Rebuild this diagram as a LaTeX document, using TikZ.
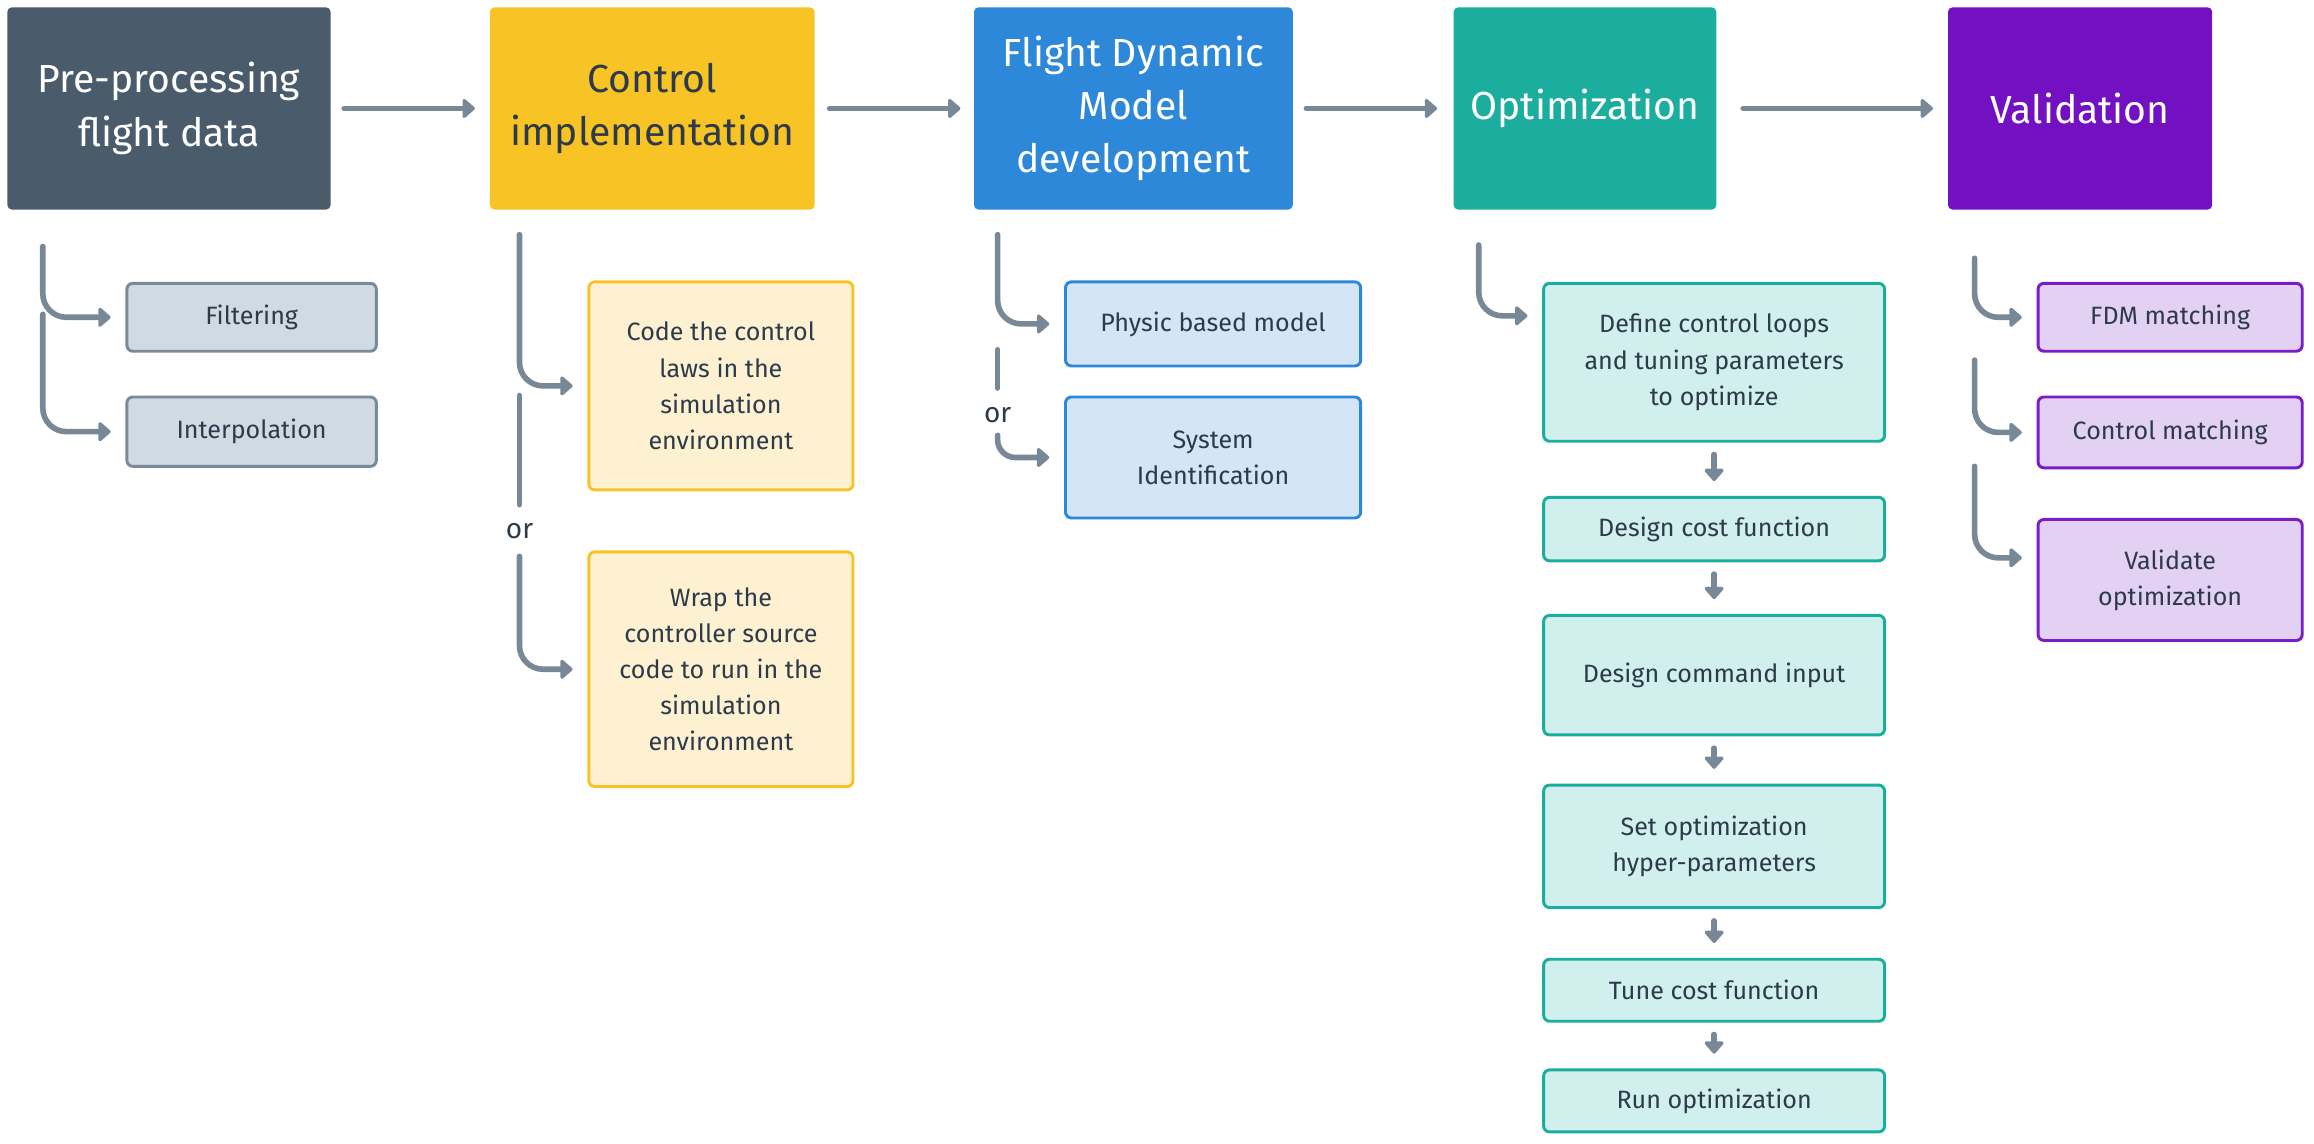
\documentclass[tikz,border=0pt]{standalone}
\usepackage{fontspec}
\setmainfont{Fira Sans}
\usetikzlibrary{arrows.meta}
\definecolor{slate}{HTML}{4A5B6B}
\definecolor{yel}{HTML}{F7C325}
\definecolor{blu}{HTML}{2D88D9}
\definecolor{teal2}{HTML}{1BAE9F}
\definecolor{purp}{HTML}{7210C2}
\definecolor{lslate}{HTML}{CFDAE2}
\definecolor{bslate}{HTML}{7A8A98}
\definecolor{lyel}{HTML}{FDF1D2}
\definecolor{lblu}{HTML}{D4E6F6}
\definecolor{lteal}{HTML}{D1EFEC}
\definecolor{lpurp}{HTML}{E3D1F4}
\definecolor{bpurp}{HTML}{7A1CC8}
\definecolor{cgray}{HTML}{788896}
\definecolor{txt}{HTML}{2C3A4A}
\tikzset{
  mainbox/.style={rounded corners=3pt, align=center, inner sep=0pt,
    font=\fontsize{26.5}{36}\selectfont},
  subbox/.style={rounded corners=4pt, line width=2pt, align=center, inner sep=0pt,
    text=txt, font=\fontsize{17}{24.5}\selectfont},
  conn/.style={draw=cgray, line width=3.8pt, line cap=round, rounded corners=16pt,
    -{Triangle[length=9pt,width=15pt,round]}},
  seg/.style={draw=cgray, line width=3.8pt, line cap=round},
  ortext/.style={text=txt, font=\fontsize{19}{22}\selectfont, inner sep=0pt},
}
\begin{document}
\begin{tikzpicture}[x=1pt,y=-1pt]
\useasboundingbox[fill=white] (0,0) rectangle (1568,775);

% main row
\node[mainbox, fill=slate, text=white, minimum width=219pt, minimum height=137pt] (A) at (114.5,73.5) {Pre-processing\\flight data};
\node[mainbox, fill=yel, text=txt, minimum width=220pt, minimum height=137pt] (B) at (442,73.5) {Control\\implementation};
\node[mainbox, fill=blu, text=white, minimum width=216pt, minimum height=137pt] (C) at (768,73.5) {Flight Dynamic\\Model\\development};
\node[mainbox, fill=teal2, text=white, minimum width=178pt, minimum height=137pt] (D) at (1074,73.5) {Optimization};
\node[mainbox, fill=purp, text=white, minimum width=179pt, minimum height=137pt] (E) at (1409.5,73.5) {Validation};

\draw[conn, shorten <=9pt, shorten >=10pt] (A) -- (B);
\draw[conn, shorten <=10pt, shorten >=9pt] (B) -- (C);
\draw[conn, shorten <=9pt, shorten >=11pt] (C) -- (D);
\draw[conn, shorten <=18pt, shorten >=10pt] (D) -- (E);

% column A
\node[subbox, draw=bslate, fill=lslate, minimum width=169pt, minimum height=46pt] (filt) at (170.5,215) {Filtering};
\node[subbox, draw=bslate, fill=lslate, minimum width=169pt, minimum height=47pt] (interp) at (170.5,292.5) {Interpolation};
\coordinate (a1) at (29,167);
\coordinate (a2) at (29,213);
\draw[conn, shorten >=10pt] (a1) |- (filt.west);
\draw[conn, shorten >=10pt] (a2) |- (interp.west);

% column B
\node[subbox, draw=yel, fill=lyel, minimum width=179pt, minimum height=141pt] (code) at (488.5,261.5) {Code the control\\laws in the\\simulation\\environment};
\node[subbox, draw=yel, fill=lyel, minimum width=179pt, minimum height=159pt] (wrap) at (488.5,453.5) {Wrap the\\controller source\\code to run in the\\simulation\\environment};
\coordinate (b1) at (352,159);
\coordinate (b2s) at (352,268);
\coordinate (b2e) at (352,342);
\coordinate (b3) at (352,377);
\node[ortext] (orB) at (352,360) {or};
\draw[conn, shorten >=10pt] (b1) |- (code.west);
\draw[seg] (b2s) -- (b2e);
\draw[conn, shorten >=10pt] (b3) |- (wrap.west);

% column C
\node[subbox, draw=blu, fill=lblu, minimum width=200pt, minimum height=57pt] (phys) at (822,219.5) {Physic based model};
\node[subbox, draw=blu, fill=lblu, minimum width=200pt, minimum height=82pt] (sysid) at (822,310) {System\\Identification};
\coordinate (c1) at (676,159);
\coordinate (c2s) at (676,237);
\coordinate (c2e) at (676,263);
\coordinate (c3) at (676,295);
\node[ortext] (orC) at (676,281) {or};
\draw[conn, shorten >=10pt] (c1) |- (phys.west);
\draw[seg] (c2s) -- (c2e);
\draw[conn, shorten >=10pt, rounded corners=12pt] (c3) |- (sysid.west);

% column D
\node[subbox, draw=teal2, fill=lteal, minimum width=231pt, minimum height=107pt] (def) at (1161.5,245.5) {Define control loops\\and tuning parameters\\to optimize};
\node[subbox, draw=teal2, fill=lteal, minimum width=231pt, minimum height=43pt] (cost) at (1161.5,358.5) {Design cost function};
\node[subbox, draw=teal2, fill=lteal, minimum width=231pt, minimum height=81pt] (cmd) at (1161.5,457.5) {Design command input};
\node[subbox, draw=teal2, fill=lteal, minimum width=231pt, minimum height=83pt] (hyp) at (1161.5,573.5) {Set optimization\\hyper-parameters};
\node[subbox, draw=teal2, fill=lteal, minimum width=231pt, minimum height=42pt] (tune) at (1161.5,671) {Tune cost function};
\node[subbox, draw=teal2, fill=lteal, minimum width=231pt, minimum height=42pt] (run) at (1161.5,746) {Run optimization};
\coordinate (d1) at (1002,166);
\draw[conn, shorten >=10pt] (d1) |- ([yshift=31.5pt]def.west);
\draw[conn, shorten <=8pt, shorten >=10pt] (def) -- (cost);
\draw[conn, shorten <=8pt, shorten >=10pt] (cost) -- (cmd);
\draw[conn, shorten <=8pt, shorten >=10pt] (cmd) -- (hyp);
\draw[conn, shorten <=8pt, shorten >=10pt] (hyp) -- (tune);
\draw[conn, shorten <=8pt, shorten >=10pt] (tune) -- (run);

% column E
\node[subbox, draw=bpurp, fill=lpurp, minimum width=179pt, minimum height=46pt] (fdm) at (1470.5,215) {FDM matching};
\node[subbox, draw=bpurp, fill=lpurp, minimum width=179pt, minimum height=48pt] (ctm) at (1470.5,293) {Control matching};
\node[subbox, draw=bpurp, fill=lpurp, minimum width=179pt, minimum height=82pt] (val) at (1470.5,393) {Validate\\optimization};
\coordinate (e1) at (1338,175);
\coordinate (e2) at (1338,244);
\coordinate (e3) at (1338,316);
\draw[conn, shorten >=10pt] (e1) |- (fdm.west);
\draw[conn, shorten >=10pt] (e2) |- (ctm.west);
\draw[conn, shorten >=10pt] (e3) |- ([yshift=15pt]val.west);
\end{tikzpicture}
\end{document}
